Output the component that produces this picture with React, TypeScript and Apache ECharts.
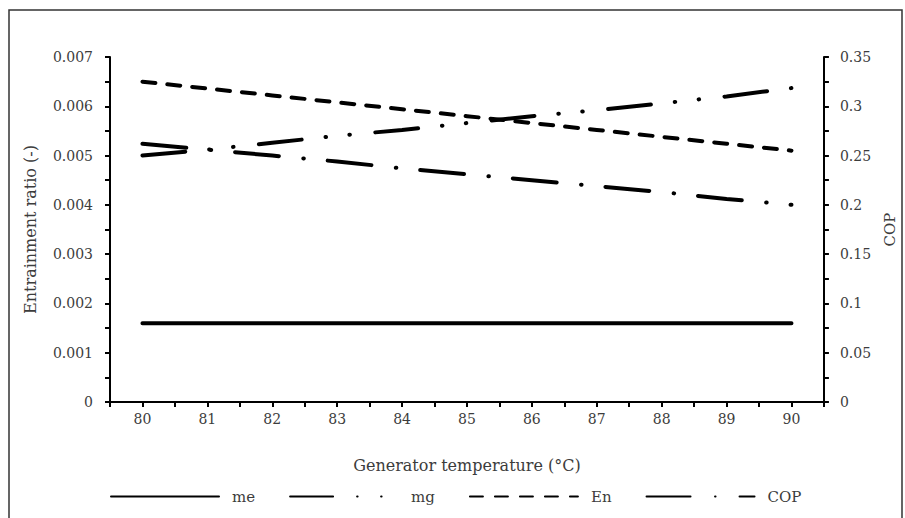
import React, { useEffect, useRef } from "react";
import * as echarts from "echarts";

const temperatures = [80, 81, 82, 83, 84, 85, 86, 87, 88, 89, 90];
const meValues = [0.0016, 0.0016, 0.0016, 0.0016, 0.0016, 0.0016, 0.0016, 0.0016, 0.0016, 0.0016, 0.0016];
const mgValues = [0.005, 0.00512, 0.00526, 0.0054, 0.00552, 0.00566, 0.0058, 0.00592, 0.00606, 0.0062, 0.00637];
const enValues = [0.0065, 0.00636, 0.00622, 0.00608, 0.00594, 0.0058, 0.00566, 0.00552, 0.00538, 0.00524, 0.0051];
const copValues = [0.262, 0.256, 0.25, 0.244, 0.237, 0.231, 0.225, 0.219, 0.213, 0.206, 0.2];

const FONT = "DejaVu Serif";
const TXT = "#3c3c3c";

export default function App() {
  const ref = useRef<HTMLDivElement>(null);
  useEffect(() => {
    document.body.style.margin = "0";
    const chart = echarts.init(ref.current!, null, { renderer: "svg" });
    const pairs = (vals: number[]) => temperatures.map((t, i) => [t, vals[i]]);
    const lineBase = { width: 4, color: "#000", cap: "round" as const };
    chart.setOption({
      animation: false,
      backgroundColor: "#fff",
      textStyle: { fontFamily: FONT, color: TXT },
      graphic: [
        {
          type: "rect",
          shape: { x: 9, y: 10, width: 893, height: 520 },
          style: { fill: "none", stroke: "#333", lineWidth: 1.5 },
          silent: true,
        },
      ],
      grid: { left: 110, right: 79, top: 57, bottom: 116 },
      xAxis: {
        type: "value",
        min: 79.5,
        max: 90.5,
        interval: 0.5,
        name: "Generator temperature (°C)",
        nameLocation: "middle",
        nameGap: 55,
        nameTextStyle: { fontFamily: FONT, fontSize: 16, color: TXT },
        axisLine: { show: true, lineStyle: { color: "#000", width: 2 } },
        axisTick: { show: true, length: 5, lineStyle: { color: "#000", width: 2 } },
        axisLabel: {
          margin: 10,
          fontFamily: FONT,
          fontSize: 14,
          color: TXT,
          formatter: (v: number) => (Number.isInteger(v) ? String(v) : ""),
        },
        splitLine: { show: false },
      },
      yAxis: [
        {
          type: "value",
          min: 0,
          max: 0.007,
          interval: 0.001,
          position: "left",
          name: "Entrainment ratio (-)",
          nameLocation: "middle",
          nameRotate: 90,
          nameGap: 72,
          nameTextStyle: { fontFamily: FONT, fontSize: 16, color: TXT },
          axisLine: { show: true, lineStyle: { color: "#000", width: 2 } },
          axisTick: { show: true, length: 5, lineStyle: { color: "#000", width: 2 } },
          minorTick: { show: true, splitNumber: 2, length: 5, lineStyle: { color: "#000", width: 2 } },
          axisLabel: { margin: 17, fontFamily: FONT, fontSize: 14, color: TXT },
          splitLine: { show: false },
        },
        {
          type: "value",
          min: 0,
          max: 0.35,
          interval: 0.05,
          position: "right",
          name: "COP",
          nameLocation: "middle",
          nameRotate: 90,
          nameGap: 46,
          nameTextStyle: { fontFamily: FONT, fontSize: 15, color: TXT },
          axisLine: { show: true, lineStyle: { color: "#000", width: 2 } },
          axisTick: { show: true, length: 5, lineStyle: { color: "#000", width: 2 } },
          minorTick: { show: true, splitNumber: 2, length: 5, lineStyle: { color: "#000", width: 2 } },
          axisLabel: { margin: 16, fontFamily: FONT, fontSize: 14, color: TXT },
          splitLine: { show: false },
        },
      ],
      legend: {
        left: 105,
        top: 484,
        itemWidth: 108,
        itemHeight: 14,
        itemGap: 34,
        itemStyle: { opacity: 0, color: "transparent", borderWidth: 0 },
        textStyle: { fontFamily: FONT, fontSize: 15, color: TXT, padding: [0, 0, 0, 8] },
        data: ["me", "mg", "En", "COP"],
      },
      series: [
        {
          name: "me",
          type: "line",
          yAxisIndex: 0,
          data: pairs(meValues),
          symbol: "none",
          color: "#000",
          lineStyle: { ...lineBase, type: "solid" },
        },
        {
          name: "mg",
          type: "line",
          yAxisIndex: 0,
          data: pairs(mgValues),
          symbol: "none",
          color: "#000",
          lineStyle: { ...lineBase, type: [43, 24, 0.5, 23.5, 0.5, 25.5] },
        },
        {
          name: "En",
          type: "line",
          yAxisIndex: 0,
          data: pairs(enValues),
          symbol: "none",
          color: "#000",
          lineStyle: { ...lineBase, type: [13, 12] },
        },
        {
          name: "COP",
          type: "line",
          yAxisIndex: 1,
          data: pairs(copValues),
          symbol: "none",
          color: "#000",
          lineStyle: { ...lineBase, type: [44, 24.5, 0.5, 24] },
        },
      ],
    });
    return () => chart.dispose();
  }, []);
  return <div ref={ref} style={{ width: 905, height: 518 }} />;
}
